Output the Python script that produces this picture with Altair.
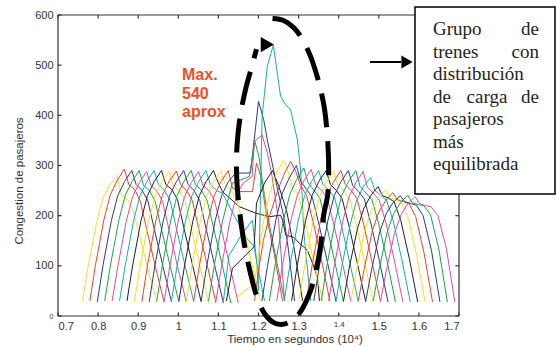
import altair as alt
import pandas as pd

# ---------------- data ----------------
# MATLAB colour cycle (as printed): yellow, red, blue, green, magenta, cyan, black
COLORS = ["#F3E31C", "#EF4424", "#2B3990", "#16A54E", "#D64FA6", "#17AEAE", "#231F20"]

# time offsets (10^4 s) of the points of a regular train curve, relative to its start
OFFSETS = [0, 0.014, 0.035, 0.051, 0.068, 0.086, 0.097, 0.112, 0.126, 0.143, 0.164, 0.185]

# regular curves: train index, start time, congestion values at OFFSETS
REG_IDS = [0, 1, 2, 3, 4, 5, 6, 7, 8, 9, 10, 11, 14,
           23, 24, 25, 26, 27, 28, 29, 30, 31, 32, 33, 34, 35, 36, 37, 38, 39]
REG_STARTS = [0.761, 0.7795, 0.798, 0.8165, 0.835, 0.8535, 0.872, 0.8905, 0.909, 0.9275,
              0.946, 0.9645, 1.02,
              1.2085, 1.227, 1.2455, 1.264, 1.2825, 1.301, 1.3195, 1.338, 1.3565, 1.375,
              1.3935, 1.412, 1.4305, 1.449, 1.4675, 1.486, 1.5045]
REG_VALUES = [
    [30, 98, 185, 235, 261, 278, 241, 233, 211, 158, 91, 30],
    [30, 102, 192, 242, 270, 293, 262, 252, 228, 168, 96, 28],
    [28, 100, 190, 240, 268, 290, 262, 250, 230, 170, 98, 28],
    [30, 100, 190, 240, 268, 290, 260, 250, 228, 168, 97, 28],
    [30, 98, 188, 238, 266, 288, 260, 249, 228, 168, 96, 28],
    [30, 100, 190, 240, 268, 290, 262, 250, 230, 170, 98, 28],
    [30, 100, 190, 240, 268, 290, 262, 252, 232, 172, 100, 28],
    [28, 98, 188, 238, 266, 288, 260, 250, 230, 170, 98, 26],
    [28, 100, 190, 240, 268, 289, 262, 250, 230, 170, 98, 26],
    [28, 100, 190, 240, 268, 290, 262, 250, 230, 170, 98, 26],
    [28, 100, 190, 240, 268, 290, 262, 250, 230, 172, 100, 26],
    [28, 98, 188, 238, 266, 288, 260, 250, 230, 172, 100, 26],
    [28, 100, 190, 240, 268, 289, 262, 250, 232, 175, 102, 28],
    [30, 100, 192, 245, 275, 300, 268, 252, 236, 180, 105, 28],
    [30, 100, 190, 242, 272, 295, 265, 250, 235, 180, 105, 28],
    [30, 100, 190, 240, 270, 292, 262, 250, 235, 180, 105, 28],
    [30, 100, 190, 240, 268, 290, 262, 250, 235, 180, 105, 28],
    [30, 100, 190, 240, 268, 290, 262, 250, 234, 180, 105, 28],
    [30, 100, 188, 238, 266, 288, 260, 250, 234, 182, 106, 28],
    [30, 100, 190, 240, 268, 290, 262, 250, 234, 182, 106, 28],
    [30, 100, 190, 240, 268, 290, 260, 248, 233, 182, 108, 28],
    [30, 100, 190, 240, 268, 290, 258, 245, 232, 185, 110, 28],
    [30, 100, 188, 238, 266, 288, 256, 244, 231, 185, 110, 28],
    [30, 98, 182, 230, 258, 276, 250, 240, 230, 188, 112, 28],
    [30, 95, 175, 215, 240, 258, 240, 235, 228, 190, 115, 28],
    [30, 93, 172, 210, 235, 251, 236, 232, 226, 195, 120, 28],
    [30, 92, 170, 207, 230, 246, 232, 228, 224, 198, 125, 28],
    [30, 90, 168, 204, 226, 240, 228, 224, 221, 200, 130, 28],
    [30, 90, 168, 204, 226, 241, 226, 222, 220, 202, 132, 28],
    [30, 90, 166, 202, 224, 238, 224, 220, 218, 200, 135, 28],
]

# disturbed trains around t = 1.2 (explicit points)
SPECIAL_IDS = [12, 13, 15, 16, 17, 18, 19, 20, 21, 22]
SPECIAL_TIMES = [
    [0.983, 0.997, 1.018, 1.034, 1.051, 1.069, 1.080, 1.095, 1.11, 1.152, 1.16, 1.189, 1.2, 1.215],
    [1.0015, 1.0155, 1.0365, 1.0525, 1.0695, 1.0875, 1.1, 1.11, 1.152, 1.193, 1.227, 1.255, 1.26,
     1.268, 1.288, 1.302, 1.322, 1.335, 1.347, 1.352],
    [1.0385, 1.0525, 1.0735, 1.0895, 1.1065, 1.1245, 1.135, 1.152, 1.185, 1.195, 1.205, 1.22, 1.24, 1.26],
    [1.057, 1.071, 1.092, 1.108, 1.125, 1.143, 1.18, 1.2, 1.213, 1.222, 1.234, 1.246, 1.263, 1.275, 1.29],
    [1.0755, 1.0895, 1.1105, 1.1265, 1.135, 1.177, 1.191, 1.201, 1.215, 1.23, 1.25, 1.265],
    [1.094, 1.108, 1.129, 1.145, 1.162, 1.184, 1.19, 1.209, 1.222, 1.234, 1.25, 1.265],
    [1.1125, 1.126, 1.16, 1.185, 1.195, 1.2, 1.209, 1.222, 1.237, 1.255, 1.268, 1.28, 1.297,
     1.305, 1.309, 1.3125, 1.33],
    [1.12, 1.135, 1.189, 1.195, 1.215, 1.235, 1.25, 1.27, 1.29, 1.31],
    [1.143, 1.189, 1.2, 1.215, 1.23, 1.245, 1.262, 1.272, 1.285, 1.3, 1.32, 1.34, 1.36],
    [1.19, 1.2, 1.212, 1.227, 1.25, 1.265, 1.28, 1.292, 1.305, 1.32, 1.34, 1.36, 1.378],
]
SPECIAL_VALUES = [
    [30, 100, 190, 240, 268, 290, 262, 250, 245, 181, 165, 138, 90, 30],
    [30, 100, 190, 240, 268, 290, 265, 248, 218, 205, 198, 201, 191, 161, 157, 145, 131, 105, 77, 30],
    [30, 100, 190, 240, 268, 290, 255, 248, 248, 305, 280, 200, 120, 30],
    [30, 100, 190, 240, 268, 285, 285, 428, 391, 351, 305, 258, 198, 130, 30],
    [30, 100, 190, 240, 265, 278, 348, 318, 240, 170, 90, 30],
    [30, 100, 190, 240, 265, 278, 348, 361, 325, 278, 190, 30],
    [30, 120, 165, 191, 110, 51, 398, 498, 540, 438, 421, 411, 351, 291, 238, 171, 30],
    [30, 95, 138, 225, 265, 290, 260, 210, 130, 30],
    [35, 65, 120, 200, 250, 285, 310, 292, 255, 240, 175, 100, 30],
    [30, 90, 150, 198, 255, 285, 308, 290, 260, 240, 175, 100, 30],
]

X_TICKS = [0.7, 0.8, 0.9, 1.0, 1.1, 1.2, 1.3, 1.4, 1.5, 1.6, 1.7]
Y_TICKS = [0, 100, 200, 300, 400, 500, 600]

# dashed ellipse drawn over the figure (data units)
ELLIPSE_X = [1.235, 1.2625, 1.2875, 1.31, 1.33, 1.345, 1.355, 1.365, 1.3725, 1.375, 1.3725,
             1.3625, 1.355, 1.345, 1.33, 1.305, 1.275, 1.2425, 1.215, 1.195, 1.18, 1.165,
             1.155, 1.1475, 1.145, 1.1475, 1.155, 1.1675, 1.1825, 1.195]
ELLIPSE_Y = [593, 589, 575, 551, 517, 481, 451, 411, 351, 291, 241, 201, 141, 97, 51, 9,
             -13, -15, 5, 41, 85, 141, 195, 251, 301, 351, 401, 451, 495, 532]
ARROWHEAD = (1.222, 541)

BOX_LINES = [
    [("Grupo", "left"), ("de", "right")],
    [("trenes", "left"), ("con", "right")],
    [("distribución", "left")],
    [("de", "left"), ("carga", "center"), ("de", "right")],
    [("pasajeros", "left")],
    [("más", "left")],
    [("equilibrada", "left")],
]
MAX_LINES = ["Max.", "540", "aprox"]

# ---------------- build tables ----------------
rows = []
for k, t0, vals in zip(REG_IDS, REG_STARTS, REG_VALUES):
    for i, (o, v) in enumerate(zip(OFFSETS, vals)):
        rows.append({"train": k, "seq": i, "t": round(t0 + o, 4), "v": v, "color": COLORS[k % 7]})
for k, ts, vs in zip(SPECIAL_IDS, SPECIAL_TIMES, SPECIAL_VALUES):
    for i, (t, v) in enumerate(zip(ts, vs)):
        rows.append({"train": k, "seq": i, "t": t, "v": v, "color": COLORS[k % 7]})
curves = pd.DataFrame(rows).sort_values(["train", "seq"])

XS = alt.Scale(domain=[0.7, 1.7], nice=False, zero=False)
YS = alt.Scale(domain=[0, 600], nice=False, zero=False)
FONT = "Liberation Sans"
GREY = "#333333"

X_AX = alt.Axis(
    values=X_TICKS, labelExpr="format(datum.value, '.1~f')", domain=False, ticks=False,
    grid=False, title=None, labelFont=FONT, labelColor=GREY, labelPadding=4,
    labelFontSize={"condition": {"test": "abs(datum.value - 1.4) < 0.001", "value": 8}, "value": 11})
Y_AX = alt.Axis(
    values=Y_TICKS, domain=False, ticks=False, grid=False, title=None, labelFont=FONT,
    labelColor=GREY, labelPadding=5,
    labelFontSize={"condition": {"test": "datum.value == 0", "value": 7}, "value": 11})


def X(field):
    return alt.X(field, scale=XS, axis=X_AX, title=None)


def Y(field):
    return alt.Y(field, scale=YS, axis=Y_AX, title=None)


# frame and inward ticks
frame_df = pd.DataFrame({
    "x": [0.7, 1.7, 0.7, 0.7], "x2": [0.7, 1.7, 1.7, 1.7],
    "y": [0, 0, 0, 600], "y2": [600, 600, 0, 600]})
tick_rows = []
for t in X_TICKS:
    tick_rows.append({"x": t, "x2": t, "y": 0, "y2": 7})
    tick_rows.append({"x": t, "x2": t, "y": 600, "y2": 593})
for v in Y_TICKS:
    tick_rows.append({"x": 0.7, "x2": 0.709, "y": v, "y2": v})
    tick_rows.append({"x": 1.7, "x2": 1.691, "y": v, "y2": v})
seg_df = pd.concat([frame_df, pd.DataFrame(tick_rows)], ignore_index=True)
frame = alt.Chart(seg_df).mark_rule(color=GREY, strokeWidth=1.2, clip=False).encode(
    x=X("x:Q"), x2="x2:Q", y=Y("y:Q"), y2="y2:Q")

lines = alt.Chart(curves).mark_line(strokeWidth=1).encode(
    x=X("t:Q"), y=Y("v:Q"),
    detail="train:N",
    order="seq:Q",
    color=alt.Color("color:N", scale=None),
)

ell_df = pd.DataFrame({"x": ELLIPSE_X, "y": ELLIPSE_Y, "i": range(len(ELLIPSE_X))})
ellipse = alt.Chart(ell_df).mark_line(
    color="black", strokeWidth=5, strokeDash=[34, 14], interpolate="cardinal", clip=False
).encode(x=X("x:Q"), y=Y("y:Q"), order="i:Q")

head = alt.Chart(pd.DataFrame({"x": [ARROWHEAD[0]], "y": [ARROWHEAD[1]]})).mark_point(
    shape="triangle-right", filled=True, color="black", size=230, opacity=1, clip=False
).encode(x=X("x:Q"), y=Y("y:Q"))


def txt(text, px, py, **kw):
    return alt.Chart(pd.DataFrame({"s": [text]})).mark_text(**kw).encode(
        x=alt.value(px), y=alt.value(py), text="s:N")


layers = [frame, lines, ellipse, head]

# red "Max. 540 aprox"
for i, s in enumerate(MAX_LINES):
    layers.append(txt(s, 124, 65 + i * 18.6, font=FONT, fontSize=16, fontWeight="bold",
                      color="#F04E2A", align="left", baseline="alphabetic"))

# axis titles
layers.append(txt("Tiempo en segundos (10⁴)", 237, 328, font=FONT, fontSize=11.5, color=GREY,
                  align="center", baseline="alphabetic"))
layers.append(txt("Congestion de pasajeros", -38, 166, font=FONT, fontSize=11.5, color=GREY,
                  align="center", baseline="middle", angle=270))

# text box
box = alt.Chart(pd.DataFrame({"a": [0]})).mark_rect(
    fill="white", stroke="black", strokeWidth=1.5).encode(
    x=alt.value(357), x2=alt.value(497), y=alt.value(-8), y2=alt.value(179))
layers.append(box)
xpos = {"left": 375, "center": 429, "right": 481}
for li, words in enumerate(BOX_LINES):
    for w, al in words:
        layers.append(txt(w, xpos[al], 20 + li * 22.5, font="Liberation Serif", fontSize=19,
                          color="#231F20", align=al, baseline="alphabetic"))

# arrow pointing at the box
arrow = alt.Chart(pd.DataFrame({"a": [0]})).mark_rule(color="black", strokeWidth=2).encode(
    x=alt.value(312), x2=alt.value(343), y=alt.value(47))
arrow_head = alt.Chart(pd.DataFrame({"a": [0]})).mark_point(
    shape="triangle-right", filled=True, color="black", size=170, opacity=1).encode(
    x=alt.value(349), y=alt.value(47))
layers += [arrow, arrow_head]

chart = alt.layer(*layers).properties(
    width=401, height=301,
    padding={"left": 58, "top": 15, "right": 97, "bottom": 31},
    autosize=alt.AutoSizeParams(type="none"),
    background="white",
).configure_view(stroke="transparent")

chart.save("out.html", embed_options={"renderer": "svg", "actions": False})
